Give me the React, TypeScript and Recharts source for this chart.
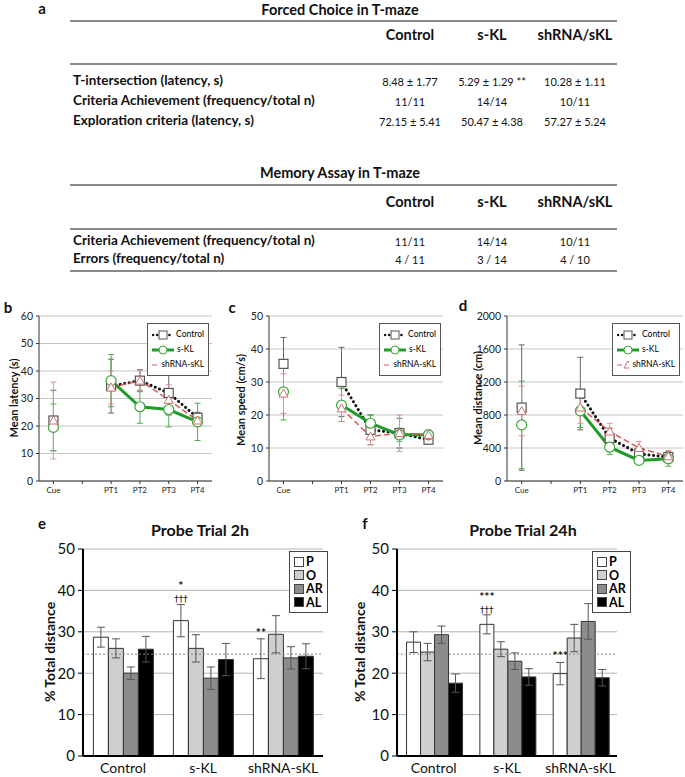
import React from 'react';
import {
  LineChart, Line, BarChart, Bar, XAxis, YAxis, CartesianGrid, ErrorBar, Legend, ReferenceLine, LabelList,
} from 'recharts';

const FONT = 'Lato, "Open Sans", sans-serif';

// ---- panel a: tables ----
const tableCols = ['Control', 's-KL', 'shRNA/sKL'];
const forcedRows = ['T-intersection (latency, s)', 'Criteria Achievement (frequency/total n)', 'Exploration criteria (latency, s)'];
const forcedValues = [
  ['8.48 ± 1.77', '5.29 ± 1.29 **', '10.28 ± 1.11'],
  ['11/11', '14/14', '10/11'],
  ['72.15 ± 5.41', '50.47 ± 4.38', '57.27 ± 5.24'],
];
const memoryRows = ['Criteria Achievement (frequency/total n)', 'Errors (frequency/total n)'];
const memoryValues = [
  ['11/11', '14/14', '10/11'],
  ['4 / 11', '3 / 14', '4 / 10'],
];

// ---- panels b-d: trials ----
const trials = ['Cue', '', 'PT1', 'PT2', 'PT3', 'PT4'];
const seriesNames = ['Control', 's-KL', 'shRNA-sKL'];

const latencyControl = [22, null, 34.5, 36.5, 32, 23];
const latencyControlErr = [11, null, 9.8, 4, 8, 2];
const latencySkl = [19.5, null, 36.5, 27, 26, 21.5];
const latencySklErr = [8.5, null, 9.5, 6, 6.3, 6.8];
const latencyShrna = [22, null, 34, 36.5, 29.5, 22];
const latencyShrnaErr = [14, null, 6, 3.8, 5.5, 2];

const speedControl = [35.5, null, 30, 15.5, 14.5, 12.5];
const speedControlErr = [8, null, 10.5, 4.5, 4.5, 1.2];
const speedSkl = [27, null, 23, 17.5, 14, 14];
const speedSklErr = [8.5, null, 5, 2.5, 2, 1];
const speedShrna = [26.5, null, 22, 13.5, 14.5, 14];
const speedShrnaErr = [6, null, 4, 2.5, 5.5, 1.5];

const distControl = [890, null, 1060, 520, 330, 290];
const distControlErr = [760, null, 440, 120, 50, 40];
const distSkl = [680, null, 850, 410, 250, 270];
const distSklErr = [530, null, 200, 90, 40, 90];
const distShrna = [850, null, 890, 600, 400, 300];
const distShrnaErr = [300, null, 190, 100, 80, 70];

// ---- panels e-f: probe trials ----
const groups = ['Control', 's-KL', 'shRNA-sKL'];
const quadrants = ['P', 'O', 'AR', 'AL'];
const quadrantFills = ['#ffffff', '#cfcfcf', '#8c8c8c', '#000000'];

const p2h = [28.7, 32.7, 23.5];
const p2hErr = [2.4, 3.9, 4.8];
const o2h = [26.0, 26.0, 29.4];
const o2hErr = [2.3, 3.3, 4.5];
const ar2h = [20.0, 18.8, 23.7];
const ar2hErr = [1.5, 2.7, 2.7];
const al2h = [25.8, 23.3, 24.1];
const al2hErr = [3.1, 3.9, 3.0];
const stars2h = ['', '*', '**'];
const daggers2h = ['', '†††', ''];

const p24h = [27.5, 31.8, 19.9];
const p24hErr = [2.5, 2.3, 2.7];
const o24h = [25.1, 25.8, 28.5];
const o24hErr = [2.1, 1.8, 3.3];
const ar24h = [29.3, 22.9, 32.5];
const ar24hErr = [2.1, 2.0, 4.3];
const al24h = [17.6, 19.1, 18.9];
const al24hErr = [2.2, 2.0, 2.0];
const stars24h = ['', '***', '***'];
const daggers24h = ['', '†††', ''];

const chanceLevel = 24.6;

// ---------- helpers ----------
type TxtProps = { x: number; y: number; size?: number; bold?: boolean; anchor?: 'start' | 'middle' | 'end'; rotate?: boolean; children: React.ReactNode };
const Txt = ({ x, y, size = 13, bold = false, anchor = 'middle', rotate = false, children }: TxtProps) => {
  const tx = anchor === 'middle' ? '-50%' : anchor === 'end' ? '-100%' : '0';
  return (
    <div
      style={{
        position: 'absolute', left: x, top: y, whiteSpace: 'nowrap', lineHeight: 1,
        fontSize: size, fontWeight: bold ? 700 : 400, color: '#111',
        transform: `translate(${tx}, -50%)${rotate ? ' rotate(-90deg)' : ''}`,
        transformOrigin: rotate ? '50% 50%' : undefined,
      }}
    >
      {children}
    </div>
  );
};

const Rule = ({ y }: { y: number }) => (
  <div style={{ position: 'absolute', left: 70, width: 547, top: y, height: 2, background: '#8a8a8a' }} />
);

const colX = [410, 492, 575];

type TableProps = { title: string; titleY: number; rules: number[]; headY: number; rows: string[]; values: string[][]; rowY: number[] };
const SummaryTable = ({ title, titleY, rules, headY, rows, values, rowY }: TableProps) => (
  <>
    <Txt x={340} y={titleY} size={14.5} bold>{title}</Txt>
    {rules.map((y) => <Rule key={y} y={y} />)}
    {tableCols.map((c, i) => <Txt key={c} x={colX[i]} y={headY} size={14.5} bold>{c}</Txt>)}
    {rows.map((r, i) => (
      <React.Fragment key={r + i}>
        <Txt x={73} y={rowY[i]} size={13.5} bold anchor="start">{r}</Txt>
        {values[i].map((v, j) => <Txt key={j} x={colX[j]} y={rowY[i]} size={11}>{v}</Txt>)}
      </React.Fragment>
    ))}
  </>
);

// ---------- line charts ----------
const squareDot = (p: any) => (p.cy == null || p.cx == null
  ? <g key={`sq-${p.index}`} />
  : <rect key={`sq-${p.index}`} x={p.cx - 4.5} y={p.cy - 4.5} width={9} height={9} fill="#fff" stroke="#555" strokeWidth={1.2} />);
const circleDot = (p: any) => (p.cy == null || p.cx == null
  ? <g key={`ci-${p.index}`} />
  : <circle key={`ci-${p.index}`} cx={p.cx} cy={p.cy} r={5} fill="#fff" stroke="#3aa83a" strokeWidth={1.2} />);
const triDot = (p: any) => (p.cy == null || p.cx == null
  ? <g key={`tr-${p.index}`} />
  : <path key={`tr-${p.index}`} d={`M${p.cx},${p.cy - 4.5}L${p.cx + 4.5},${p.cy + 3.5}L${p.cx - 4.5},${p.cy + 3.5}Z`} fill="#fff" stroke="#d07070" strokeWidth={1} />);

const lineLegend = () => (
  <div style={{ border: '1px solid #555', background: '#fff', padding: '3px 4px', fontSize: 8.5, fontFamily: FONT, lineHeight: '15px' }}>
    {seriesNames.map((n, i) => (
      <div key={n} style={{ display: 'flex', alignItems: 'center', whiteSpace: 'nowrap' }}>
        <svg width={22} height={10} style={{ marginRight: 3 }}>
          {i === 0 && <line x1={1} y1={5} x2={21} y2={5} stroke="#111" strokeWidth={2.5} strokeDasharray="0.1 4" strokeLinecap="round" />}
          {i === 1 && <line x1={0} y1={5} x2={22} y2={5} stroke="#1f9b2a" strokeWidth={3} />}
          {i === 2 && <line x1={0} y1={5} x2={22} y2={5} stroke="#d65a5a" strokeWidth={1.2} strokeDasharray="5 3" />}
          {i === 0 && <rect x={7} y={1} width={8} height={8} fill="#fff" stroke="#555" />}
          {i === 1 && <circle cx={11} cy={5} r={4} fill="#fff" stroke="#3aa83a" />}
          {i === 2 && <path d="M11,1L15,8L7,8Z" fill="#fff" stroke="#d07070" />}
        </svg>
        {n}
      </div>
    ))}
  </div>
);

type TrialProps = {
  left: number; yAxisWidth: number; rightMargin: number; ticks: number[];
  control: (number | null)[]; controlErr: (number | null)[];
  skl: (number | null)[]; sklErr: (number | null)[];
  shrna: (number | null)[]; shrnaErr: (number | null)[];
  legendLeft: number; legendWidth: number;
};
const TrialChart = (p: TrialProps) => {
  const data = trials.map((name, i) => ({
    name,
    control: p.control[i], controlErr: p.controlErr[i],
    skl: p.skl[i], sklErr: p.sklErr[i],
    shrna: p.shrna[i], shrnaErr: p.shrnaErr[i],
  }));
  // half a category slot on each side, like a category axis in a spreadsheet chart
  const pad = (230 - p.yAxisWidth - p.rightMargin) / 12;
  return (
    <div style={{ position: 'absolute', left: p.left, top: 296 }}>
      <LineChart width={230} height={204} data={data} margin={{ top: 20, right: p.rightMargin, left: 0, bottom: 0 }}>
        <CartesianGrid vertical={false} stroke="#c6c6c6" />
        <XAxis dataKey="name" interval={0} padding={{ left: pad, right: pad }}
          tick={{ fontSize: 8, fill: '#222', fontFamily: FONT }} tickSize={3} tickMargin={3}
          axisLine={{ stroke: '#333' }} tickLine={{ stroke: '#333' }} height={19} />
        <YAxis width={p.yAxisWidth} domain={[p.ticks[0], p.ticks[p.ticks.length - 1]]} ticks={p.ticks} interval={0}
          tick={{ fontSize: 10.5, fill: '#222', fontFamily: FONT }} tickSize={3} tickMargin={3}
          axisLine={{ stroke: '#333' }} tickLine={{ stroke: '#333' }} />
        <Legend layout="horizontal" verticalAlign="middle" align="center" content={lineLegend}
          wrapperStyle={{ top: 27, left: p.legendLeft, width: p.legendWidth, height: 'auto' }} />
        <Line dataKey="control" name="Control" stroke="#111" strokeWidth={3} strokeDasharray="0.1 4.5" strokeLinecap="round"
          dot={squareDot} activeDot={false} isAnimationActive={false}>
          <ErrorBar dataKey="controlErr" width={3} stroke="#666" strokeWidth={1} />
        </Line>
        <Line dataKey="skl" name="s-KL" stroke="#1f9b2a" strokeWidth={3} dot={circleDot} activeDot={false} isAnimationActive={false}>
          <ErrorBar dataKey="sklErr" width={3} stroke="#4cae4c" strokeWidth={1} />
        </Line>
        <Line dataKey="shrna" name="shRNA-sKL" stroke="#d65a5a" strokeWidth={1.5} strokeDasharray="6 3" dot={triDot} activeDot={false} isAnimationActive={false}>
          <ErrorBar dataKey="shrnaErr" width={3} stroke="#dd9090" strokeWidth={1} />
        </Line>
      </LineChart>
    </div>
  );
};

// ---------- bar charts ----------
const barLegend = () => (
  <div style={{ border: '1px solid #444', background: '#fff', padding: '3px 4px', fontSize: 12.5, fontWeight: 700, fontFamily: FONT, lineHeight: '13.5px' }}>
    {quadrants.map((q, i) => (
      <div key={q} style={{ display: 'flex', alignItems: 'center' }}>
        <span style={{ display: 'inline-block', width: 8, height: 8, background: quadrantFills[i], border: '1px solid #444', marginRight: 2 }} />
        {q}
      </div>
    ))}
  </div>
);

const sigLabel = (stars: string[], daggers: string[], errs: number[]) => (props: any) => {
  const vb = props.viewBox && props.viewBox.width != null ? props.viewBox : props;
  const { x, y, width, height } = vb;
  const index = props.index;
  const value = Number(props.value);
  if (!stars[index] && !daggers[index]) return <g key={`sig-${index}`} />;
  const unit = height / value;
  const top = y - errs[index] * unit;
  const cx = x + width / 2;
  return (
    <g key={`sig-${index}`}>
      {daggers[index] && (
        <text x={cx} y={top - 2} textAnchor="middle" fontSize={9} fill="#111" fontFamily='"DejaVu Sans", sans-serif'>{daggers[index]}</text>
      )}
      <text x={cx} y={top - (daggers[index] ? 14 : 2)} textAnchor="middle" fontSize={12} fontWeight={700} fill="#111" fontFamily={FONT}>
        {stars[index]}
      </text>
    </g>
  );
};

type ProbeProps = {
  left: number; yAxisWidth: number; rightMargin: number; legendLeft: number;
  p: number[]; pErr: number[]; o: number[]; oErr: number[]; ar: number[]; arErr: number[]; al: number[]; alErr: number[];
  stars: string[]; daggers: string[];
};
const ProbeChart = (c: ProbeProps) => {
  const data = groups.map((group, i) => ({
    group,
    P: c.p[i], Perr: c.pErr[i], O: c.o[i], Oerr: c.oErr[i],
    AR: c.ar[i], ARerr: c.arErr[i], AL: c.al[i], ALerr: c.alErr[i],
  }));
  const errKeys = ['Perr', 'Oerr', 'ARerr', 'ALerr'];
  return (
    <div style={{ position: 'absolute', left: c.left, top: 520 }}>
      <BarChart width={345} height={257} data={data} margin={{ top: 29, right: c.rightMargin, left: 0, bottom: 0 }}
        barCategoryGap="13%" barGap={0}>
        <CartesianGrid vertical={false} stroke="#b4b4b4" />
        <XAxis dataKey="group" tickLine={false} tickSize={0} tickMargin={7} height={21}
          tick={{ fontSize: 14, fill: '#111', fontFamily: FONT }} axisLine={{ stroke: '#000', strokeWidth: 2 }} />
        <YAxis width={c.yAxisWidth} domain={[0, 50]} ticks={[0, 10, 20, 30, 40, 50]} interval={0}
          tick={{ fontSize: 15, fill: '#111', fontFamily: FONT }} tickSize={5} tickMargin={3}
          axisLine={{ stroke: '#000', strokeWidth: 2 }} tickLine={{ stroke: '#000' }} />
        <ReferenceLine y={chanceLevel} stroke="#888" strokeDasharray="2 2" />
        <Legend layout="horizontal" verticalAlign="middle" align="center" content={barLegend}
          wrapperStyle={{ top: 31, left: c.legendLeft, width: 'auto', height: 'auto' }} />
        {quadrants.map((q, i) => (
          <Bar key={q} dataKey={q} fill={quadrantFills[i]} stroke="#333" strokeWidth={1} isAnimationActive={false}>
            <ErrorBar dataKey={errKeys[i]} width={4} stroke="#555" strokeWidth={1} />
            {i === 0 && <LabelList dataKey={q} content={sigLabel(c.stars, c.daggers, c.pErr)} />}
          </Bar>
        ))}
      </BarChart>
    </div>
  );
};

export default function App() {
  return (
    <div style={{ position: 'absolute', left: 0, top: 0, width: 685, height: 777, background: '#fff', fontFamily: FONT, overflow: 'hidden' }}>
      <Txt x={42} y={8} size={15} bold>a</Txt>
      <SummaryTable title="Forced Choice in T-maze" titleY={10} rules={[20, 63]} headY={35}
        rows={forcedRows} values={forcedValues} rowY={[81, 101, 121]} />
      <SummaryTable title="Memory Assay in T-maze" titleY={173} rules={[184, 228, 270]} headY={202}
        rows={memoryRows} values={memoryValues} rowY={[241, 259]} />

      <TrialChart left={0} yAxisWidth={39} rightMargin={18} ticks={[0, 10, 20, 30, 40, 50, 60]}
        control={latencyControl} controlErr={latencyControlErr} skl={latencySkl} sklErr={latencySklErr}
        shrna={latencyShrna} shrnaErr={latencyShrnaErr} legendLeft={147} legendWidth={62} />
      <TrialChart left={225} yAxisWidth={44} rightMargin={12} ticks={[0, 10, 20, 30, 40, 50]}
        control={speedControl} controlErr={speedControlErr} skl={speedSkl} sklErr={speedSklErr}
        shrna={speedShrna} shrnaErr={speedShrnaErr} legendLeft={154} legendWidth={62} />
      <TrialChart left={455} yAxisWidth={52} rightMargin={2} ticks={[0, 400, 800, 1200, 1600, 2000]}
        control={distControl} controlErr={distControlErr} skl={distSkl} sklErr={distSklErr}
        shrna={distShrna} shrnaErr={distShrnaErr} legendLeft={157} legendWidth={68} />

      <Txt x={8} y={307} size={15} bold>b</Txt>
      <Txt x={232} y={307} size={15} bold>c</Txt>
      <Txt x={463} y={305} size={15} bold>d</Txt>
      <Txt x={13} y={398} size={11} bold rotate>Mean latency (s)</Txt>
      <Txt x={240} y={400} size={11} bold rotate>Mean speed (cm/s)</Txt>
      <Txt x={477} y={398} size={11} bold rotate>Mean distance (cm)</Txt>

      <ProbeChart left={0} yAxisWidth={83} rightMargin={22} legendLeft={289}
        p={p2h} pErr={p2hErr} o={o2h} oErr={o2hErr} ar={ar2h} arErr={ar2hErr} al={al2h} alErr={al2hErr}
        stars={stars2h} daggers={daggers2h} />
      <ProbeChart left={340} yAxisWidth={57} rightMargin={68} legendLeft={252}
        p={p24h} pErr={p24hErr} o={o24h} oErr={o24hErr} ar={ar24h} arErr={ar24hErr} al={al24h} alErr={al24hErr}
        stars={stars24h} daggers={daggers24h} />

      <Txt x={42} y={523} size={15} bold>e</Txt>
      <Txt x={365} y={523} size={15} bold>f</Txt>
      <Txt x={200} y={530} size={16} bold>Probe Trial 2h</Txt>
      <Txt x={523} y={530} size={16} bold>Probe Trial 24h</Txt>
      <Txt x={50} y={652} size={14} bold rotate>% Total distance</Txt>
      <Txt x={360} y={652} size={14} bold rotate>% Total distance</Txt>
    </div>
  );
}
